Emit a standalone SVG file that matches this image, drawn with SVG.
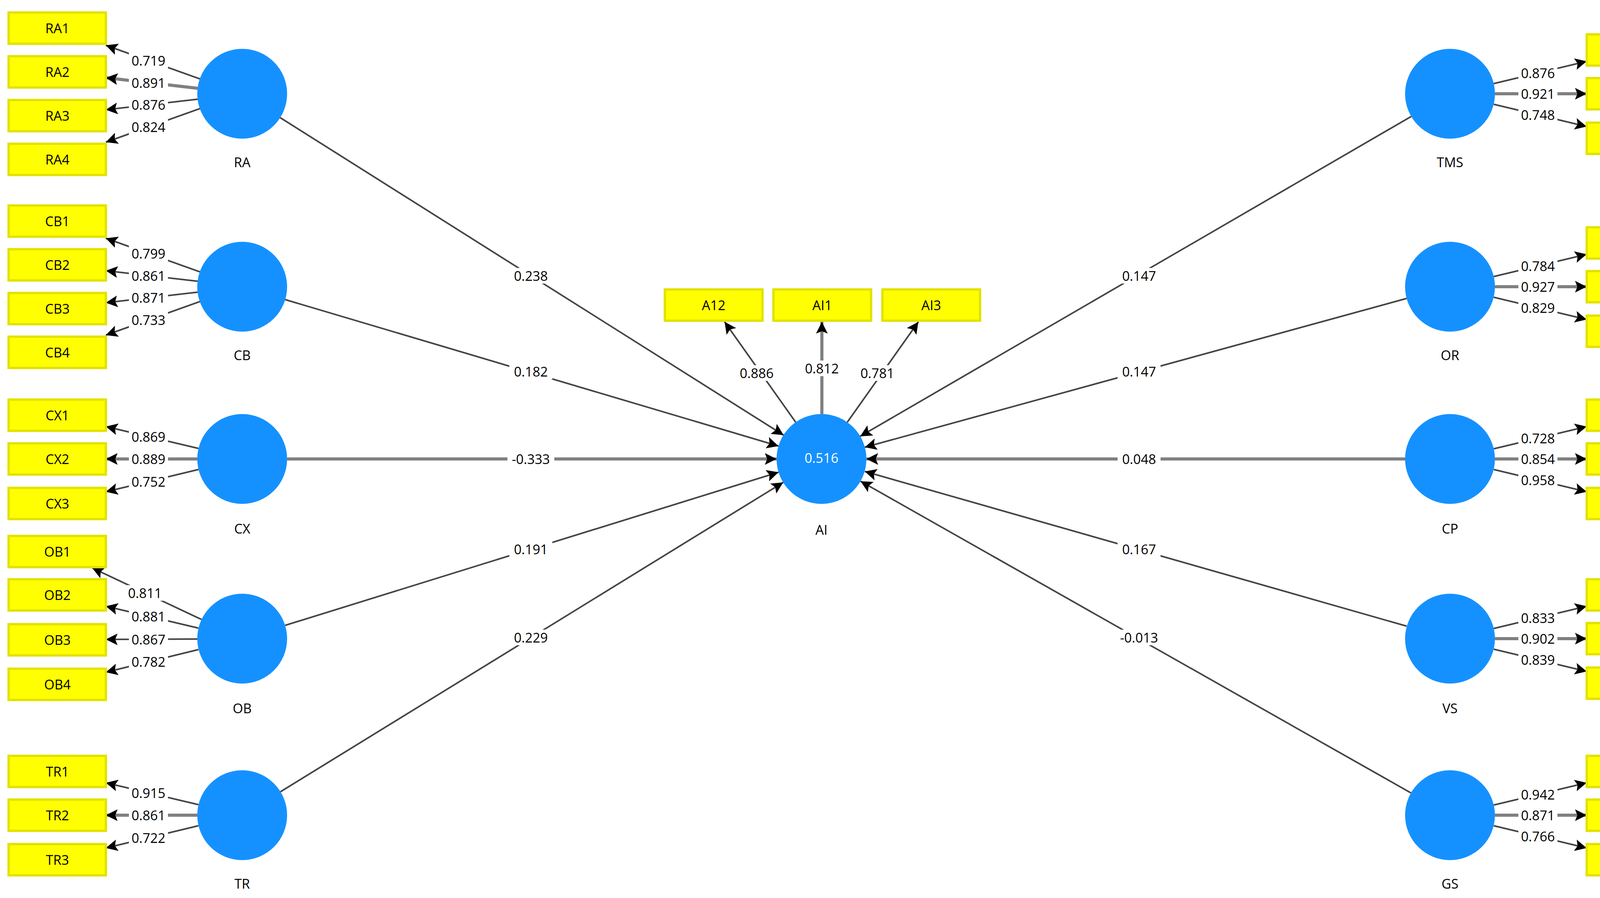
<svg xmlns="http://www.w3.org/2000/svg" width="4353" height="2299" viewBox="0 0 4353 2299">
<style>
text{font-family:"Open Sans","DejaVu Sans",sans-serif;font-size:34px;fill:#000;text-anchor:middle;dominant-baseline:central}
.box{fill:#FFFF00;stroke:#E2E200;stroke-width:6}
.lv{fill:#1591FF}
.ln{stroke:#444;stroke-width:4;fill:none;marker-end:url(#ah)}
.lg{stroke:#808080;stroke-width:8;fill:none;marker-end:url(#ah)}
.bg{fill:#fff}
.w{fill:#fff}
</style>
<defs>
<marker id="ah" markerUnits="userSpaceOnUse" markerWidth="34" markerHeight="30" refX="30" refY="15" orient="auto"><path d="M0,0 L30,15 L0,30 L6,15 Z" fill="#000"/></marker>
</defs>
<rect width="4353" height="2299" fill="#fff"/>
<g id="connectors">
<!-- structural -->
<line class="ln" x1="717" y1="301" x2="2006" y2="1114"/>
<line class="ln" x1="730" y1="767" x2="1993" y2="1142"/>
<line class="lg" x1="735" y1="1175" x2="1988" y2="1175"/>
<line class="ln" x1="730" y1="1601" x2="1993" y2="1209"/>
<line class="ln" x1="718" y1="2027" x2="2005" y2="1235"/>
<line class="ln" x1="3613" y1="298" x2="2202" y2="1117"/>
<line class="ln" x1="3601" y1="764" x2="2214" y2="1145"/>
<line class="lg" x1="3597" y1="1175" x2="2218" y2="1175"/>
<line class="ln" x1="3601" y1="1603" x2="2214" y2="1207"/>
<line class="ln" x1="3612" y1="2030" x2="2203" y2="1232"/>
<!-- AI indicators -->
<line class="ln" x1="2037" y1="1081" x2="1855" y2="824"/>
<line class="lg" x1="2104" y1="1060" x2="2104" y2="824"/>
<line class="ln" x1="2169" y1="1081" x2="2351" y2="824"/>
<!-- RA -->
<line class="ln" x1="512" y1="202" x2="271" y2="116"/>
<line class="lg" x1="506" y1="226" x2="271" y2="199"/>
<line class="ln" x1="506" y1="254" x2="271" y2="281"/>
<line class="ln" x1="512" y1="278" x2="271" y2="364"/>
<!-- CB -->
<line class="ln" x1="512" y1="696" x2="271" y2="610"/>
<line class="ln" x1="506" y1="720" x2="271" y2="693"/>
<line class="ln" x1="506" y1="748" x2="271" y2="775"/>
<line class="ln" x1="512" y1="772" x2="271" y2="858"/>
<!-- CX -->
<line class="ln" x1="508" y1="1148" x2="271" y2="1092"/>
<line class="lg" x1="505" y1="1175" x2="271" y2="1175"/>
<line class="ln" x1="508" y1="1202" x2="271" y2="1259"/>
<!-- OB -->
<line class="ln" x1="516" y1="1586" x2="236" y2="1454"/>
<line class="ln" x1="508" y1="1608" x2="271" y2="1552"/>
<line class="ln" x1="505" y1="1636" x2="271" y2="1637"/>
<line class="ln" x1="508" y1="1663" x2="271" y2="1721"/>
<!-- TR -->
<line class="ln" x1="508" y1="2060" x2="271" y2="2004"/>
<line class="lg" x1="505" y1="2087" x2="271" y2="2087"/>
<line class="ln" x1="508" y1="2114" x2="271" y2="2171"/>
<!-- TMS -->
<line class="ln" x1="3824" y1="214" x2="4062" y2="157"/>
<line class="lg" x1="3827" y1="240" x2="4062" y2="240"/>
<line class="ln" x1="3824" y1="267" x2="4062" y2="324"/>
<!-- OR -->
<line class="ln" x1="3824" y1="708" x2="4062" y2="651"/>
<line class="lg" x1="3827" y1="734" x2="4062" y2="734"/>
<line class="ln" x1="3824" y1="761" x2="4062" y2="818"/>
<!-- CP -->
<line class="ln" x1="3824" y1="1149" x2="4062" y2="1092"/>
<line class="lg" x1="3827" y1="1175" x2="4062" y2="1175"/>
<line class="ln" x1="3824" y1="1202" x2="4062" y2="1259"/>
<!-- VS -->
<line class="ln" x1="3824" y1="1609" x2="4062" y2="1552"/>
<line class="lg" x1="3827" y1="1635" x2="4062" y2="1635"/>
<line class="ln" x1="3824" y1="1662" x2="4062" y2="1719"/>
<!-- GS -->
<line class="ln" x1="3824" y1="2061" x2="4062" y2="2004"/>
<line class="lg" x1="3827" y1="2087" x2="4062" y2="2087"/>
<line class="ln" x1="3824" y1="2114" x2="4062" y2="2171"/>
</g>
<g id="labels">
<g id="path-labels">
<rect class="bg" x="1304" y="686" width="110" height="40"/><text x="1359" y="706">0.238</text>
<rect class="bg" x="1304" y="931" width="110" height="40"/><text x="1359" y="951">0.182</text>
<rect class="bg" x="1299" y="1155" width="120" height="40"/><text x="1359" y="1175">-0.333</text>
<rect class="bg" x="1304" y="1386" width="110" height="40"/><text x="1359" y="1406">0.191</text>
<rect class="bg" x="1304" y="1612" width="110" height="40"/><text x="1359" y="1632">0.229</text>
<rect class="bg" x="2861" y="686" width="110" height="40"/><text x="2916" y="706">0.147</text>
<rect class="bg" x="2861" y="931" width="110" height="40"/><text x="2916" y="951">0.147</text>
<rect class="bg" x="2861" y="1155" width="110" height="40"/><text x="2916" y="1175">0.048</text>
<rect class="bg" x="2861" y="1386" width="110" height="40"/><text x="2916" y="1406">0.167</text>
<rect class="bg" x="2856" y="1612" width="120" height="40"/><text x="2916" y="1632">-0.013</text>
</g>
<g id="loading-labels">
<rect class="bg" x="1887" y="935" width="100" height="40"/><text x="1937" y="955">0.886</text>
<rect class="bg" x="2054" y="923" width="100" height="40"/><text x="2104" y="943">0.812</text>
<rect class="bg" x="2196" y="935" width="100" height="40"/><text x="2246" y="955">0.781</text>
<rect class="bg" x="330" y="135" width="100" height="40"/><text x="380" y="155">0.719</text>
<rect class="bg" x="330" y="192" width="100" height="40"/><text x="380" y="212">0.891</text>
<rect class="bg" x="330" y="248" width="100" height="40"/><text x="380" y="268">0.876</text>
<rect class="bg" x="330" y="305" width="100" height="40"/><text x="380" y="325">0.824</text>
<rect class="bg" x="330" y="629" width="100" height="40"/><text x="380" y="649">0.799</text>
<rect class="bg" x="330" y="686" width="100" height="40"/><text x="380" y="706">0.861</text>
<rect class="bg" x="330" y="742" width="100" height="40"/><text x="380" y="762">0.871</text>
<rect class="bg" x="330" y="799" width="100" height="40"/><text x="380" y="819">0.733</text>
<rect class="bg" x="330" y="1098" width="100" height="40"/><text x="380" y="1118">0.869</text>
<rect class="bg" x="330" y="1155" width="100" height="40"/><text x="380" y="1175">0.889</text>
<rect class="bg" x="330" y="1213" width="100" height="40"/><text x="380" y="1233">0.752</text>
<rect class="bg" x="321" y="1498" width="100" height="40"/><text x="371" y="1518">0.811</text>
<rect class="bg" x="330" y="1558" width="100" height="40"/><text x="380" y="1578">0.881</text>
<rect class="bg" x="330" y="1617" width="100" height="40"/><text x="380" y="1637">0.867</text>
<rect class="bg" x="330" y="1674" width="100" height="40"/><text x="380" y="1694">0.782</text>
<rect class="bg" x="330" y="2010" width="100" height="40"/><text x="380" y="2030">0.915</text>
<rect class="bg" x="330" y="2067" width="100" height="40"/><text x="380" y="2087">0.861</text>
<rect class="bg" x="330" y="2125" width="100" height="40"/><text x="380" y="2145">0.722</text>
<rect class="bg" x="3887" y="167" width="100" height="40"/><text x="3937" y="187">0.876</text>
<rect class="bg" x="3887" y="220" width="100" height="40"/><text x="3937" y="240">0.921</text>
<rect class="bg" x="3887" y="274" width="100" height="40"/><text x="3937" y="294">0.748</text>
<rect class="bg" x="3887" y="661" width="100" height="40"/><text x="3937" y="681">0.784</text>
<rect class="bg" x="3887" y="714" width="100" height="40"/><text x="3937" y="734">0.927</text>
<rect class="bg" x="3887" y="768" width="100" height="40"/><text x="3937" y="788">0.829</text>
<rect class="bg" x="3887" y="1102" width="100" height="40"/><text x="3937" y="1122">0.728</text>
<rect class="bg" x="3887" y="1155" width="100" height="40"/><text x="3937" y="1175">0.854</text>
<rect class="bg" x="3887" y="1209" width="100" height="40"/><text x="3937" y="1229">0.958</text>
<rect class="bg" x="3887" y="1562" width="100" height="40"/><text x="3937" y="1582">0.833</text>
<rect class="bg" x="3887" y="1615" width="100" height="40"/><text x="3937" y="1635">0.902</text>
<rect class="bg" x="3887" y="1669" width="100" height="40"/><text x="3937" y="1689">0.839</text>
<rect class="bg" x="3887" y="2014" width="100" height="40"/><text x="3937" y="2034">0.942</text>
<rect class="bg" x="3887" y="2067" width="100" height="40"/><text x="3937" y="2087">0.871</text>
<rect class="bg" x="3887" y="2121" width="100" height="40"/><text x="3937" y="2141">0.766</text>
</g>
</g>
<g id="AI"><circle class="lv" cx="2103" cy="1175" r="115"/><text x="2103" y="1172" class="w" style="fill:#fff">0.516</text><text x="2103" y="1356">AI</text></g>
<g id="RA"><circle class="lv" cx="620" cy="240" r="115"/><text x="620" y="415">RA</text></g>
<g id="CB"><circle class="lv" cx="620" cy="734" r="115"/><text x="620" y="909">CB</text></g>
<g id="CX"><circle class="lv" cx="620" cy="1175" r="115"/><text x="620" y="1353">CX</text></g>
<g id="OB"><circle class="lv" cx="620" cy="1635" r="115"/><text x="620" y="1813">OB</text></g>
<g id="TR"><circle class="lv" cx="620" cy="2087" r="115"/><text x="620" y="2262">TR</text></g>
<g id="TMS"><circle class="lv" cx="3712" cy="240" r="115"/><text x="3712" y="415">TMS</text></g>
<g id="OR"><circle class="lv" cx="3712" cy="734" r="115"/><text x="3712" y="909">OR</text></g>
<g id="CP"><circle class="lv" cx="3712" cy="1175" r="115"/><text x="3712" y="1353">CP</text></g>
<g id="VS"><circle class="lv" cx="3712" cy="1635" r="115"/><text x="3712" y="1813">VS</text></g>
<g id="GS"><circle class="lv" cx="3712" cy="2087" r="115"/><text x="3712" y="2262">GS</text></g>
<g id="A12"><rect class="box" x="1702" y="741" width="250" height="80"/><text x="1827" y="781">A12</text></g>
<g id="AI1"><rect class="box" x="1980" y="741" width="250" height="80"/><text x="2105" y="781">AI1</text></g>
<g id="AI3"><rect class="box" x="2259" y="741" width="250" height="80"/><text x="2384" y="781">AI3</text></g>
<g id="RA1"><rect class="box" x="22" y="32" width="249" height="80"/><text x="147" y="72">RA1</text></g>
<g id="RA2"><rect class="box" x="22" y="144" width="249" height="80"/><text x="147" y="184">RA2</text></g>
<g id="RA3"><rect class="box" x="22" y="256" width="249" height="80"/><text x="147" y="296">RA3</text></g>
<g id="RA4"><rect class="box" x="22" y="368" width="249" height="80"/><text x="147" y="408">RA4</text></g>
<g id="CB1"><rect class="box" x="22" y="526" width="249" height="80"/><text x="147" y="566">CB1</text></g>
<g id="CB2"><rect class="box" x="22" y="638" width="249" height="80"/><text x="147" y="678">CB2</text></g>
<g id="CB3"><rect class="box" x="22" y="750" width="249" height="80"/><text x="147" y="790">CB3</text></g>
<g id="CB4"><rect class="box" x="22" y="862" width="249" height="80"/><text x="147" y="902">CB4</text></g>
<g id="CX1"><rect class="box" x="22" y="1023" width="249" height="80"/><text x="147" y="1063">CX1</text></g>
<g id="CX2"><rect class="box" x="22" y="1135" width="249" height="80"/><text x="147" y="1175">CX2</text></g>
<g id="CX3"><rect class="box" x="22" y="1249" width="249" height="80"/><text x="147" y="1289">CX3</text></g>
<g id="OB1"><rect class="box" x="22" y="1372" width="249" height="80"/><text x="147" y="1412">OB1</text></g>
<g id="OB2"><rect class="box" x="22" y="1483" width="249" height="80"/><text x="147" y="1523">OB2</text></g>
<g id="OB3"><rect class="box" x="22" y="1598" width="249" height="80"/><text x="147" y="1638">OB3</text></g>
<g id="OB4"><rect class="box" x="22" y="1712" width="249" height="80"/><text x="147" y="1752">OB4</text></g>
<g id="TR1"><rect class="box" x="22" y="1935" width="249" height="80"/><text x="147" y="1975">TR1</text></g>
<g id="TR2"><rect class="box" x="22" y="2047" width="249" height="80"/><text x="147" y="2087">TR2</text></g>
<g id="TR3"><rect class="box" x="22" y="2161" width="249" height="80"/><text x="147" y="2201">TR3</text></g>
<g id="TMS1"><rect class="box" x="4062" y="88" width="251" height="80"/><text x="4187" y="128">TMS1</text></g>
<g id="TMS2"><rect class="box" x="4062" y="200" width="251" height="80"/><text x="4187" y="240">TMS2</text></g>
<g id="TMS3"><rect class="box" x="4062" y="314" width="251" height="80"/><text x="4187" y="354">TMS3</text></g>
<g id="OR1"><rect class="box" x="4062" y="582" width="251" height="80"/><text x="4187" y="622">OR1</text></g>
<g id="OR2"><rect class="box" x="4062" y="694" width="251" height="80"/><text x="4187" y="734">OR2</text></g>
<g id="OR3"><rect class="box" x="4062" y="808" width="251" height="80"/><text x="4187" y="848">OR3</text></g>
<g id="CP1"><rect class="box" x="4062" y="1023" width="251" height="80"/><text x="4187" y="1063">CP1</text></g>
<g id="CP2"><rect class="box" x="4062" y="1135" width="251" height="80"/><text x="4187" y="1175">CP2</text></g>
<g id="CP3"><rect class="box" x="4062" y="1249" width="251" height="80"/><text x="4187" y="1289">CP3</text></g>
<g id="VS1"><rect class="box" x="4062" y="1483" width="251" height="80"/><text x="4187" y="1523">VS1</text></g>
<g id="VS2"><rect class="box" x="4062" y="1595" width="251" height="80"/><text x="4187" y="1635">VS2</text></g>
<g id="VS3"><rect class="box" x="4062" y="1709" width="251" height="80"/><text x="4187" y="1749">VS3</text></g>
<g id="GS1"><rect class="box" x="4062" y="1935" width="251" height="80"/><text x="4187" y="1975">GS1</text></g>
<g id="GS2"><rect class="box" x="4062" y="2047" width="251" height="80"/><text x="4187" y="2087">GS2</text></g>
<g id="GS3"><rect class="box" x="4062" y="2161" width="251" height="80"/><text x="4187" y="2201">GS3</text></g>
</svg>
